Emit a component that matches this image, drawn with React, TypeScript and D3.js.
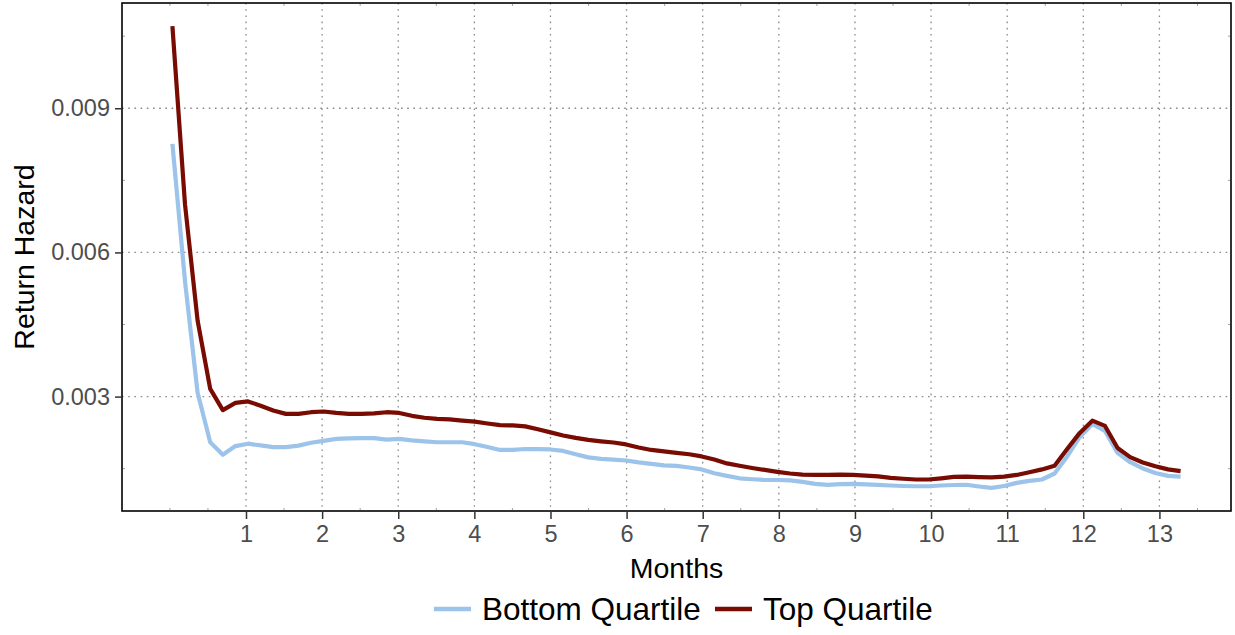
import * as d3 from 'd3'
import React, { useRef, useEffect } from 'react'

// days since exit, one point every 5 days
const days = d3.range(1, 402, 5)
const daysPerMonth = 30.2

const bottomQuartile = [
  0.00826, 0.0054, 0.00308, 0.00205, 0.00179, 0.00197, 0.00202, 0.001985, 0.00195, 0.00195,
  0.00198, 0.00204, 0.00208, 0.00212, 0.00213, 0.002135, 0.002135, 0.002105, 0.00212, 0.00209,
  0.00207, 0.00205, 0.00205, 0.00205, 0.00201, 0.00195, 0.00189, 0.00189, 0.00191, 0.001905,
  0.0019, 0.00187, 0.0018, 0.001735, 0.001705, 0.00169, 0.00167, 0.00163, 0.0016, 0.00157,
  0.00156, 0.001525, 0.001485, 0.001405, 0.00135, 0.0013, 0.00128, 0.001265, 0.001265, 0.001255,
  0.001225, 0.001185, 0.001165, 0.00118, 0.001185, 0.001175, 0.001165, 0.00115, 0.00114, 0.001135,
  0.001135, 0.00115, 0.00116, 0.001165, 0.00113, 0.0011, 0.00114, 0.001205, 0.001245, 0.001275,
  0.0014, 0.001755, 0.00216, 0.00243, 0.002285, 0.00183, 0.001635, 0.001505, 0.00141, 0.00135,
  0.001335,
]

const topQuartile = [
  0.01071, 0.007, 0.00458, 0.00316, 0.00272, 0.00287, 0.0029, 0.00281, 0.00271, 0.00264,
  0.00264, 0.002675, 0.00269, 0.00266, 0.00264, 0.00264, 0.00265, 0.002675, 0.00266, 0.0026,
  0.00256, 0.002535, 0.002525, 0.0025, 0.00248, 0.00244, 0.002405, 0.0024, 0.00238, 0.00232,
  0.002255, 0.00219, 0.00214, 0.0021, 0.00207, 0.002045, 0.002005, 0.00194, 0.00189, 0.00186,
  0.00183, 0.0018, 0.001755, 0.00169, 0.00161, 0.00156, 0.001515, 0.001475, 0.001435, 0.0014,
  0.001375, 0.00137, 0.00137, 0.001375, 0.00137, 0.001355, 0.00134, 0.00131, 0.00129, 0.001275,
  0.001275, 0.0013, 0.00133, 0.001335, 0.001325, 0.00132, 0.001335, 0.00137, 0.001425, 0.001485,
  0.00156, 0.00191, 0.002245, 0.0025, 0.00239, 0.00193, 0.00174, 0.00163, 0.00155, 0.001485,
  0.00145,
]

const monthTicks = [1, 2, 3, 4, 5, 6, 7, 8, 9, 10, 11, 12, 13]
const monthMinor = [0, 0.5, 1.5, 2.5, 3.5, 4.5, 5.5, 6.5, 7.5, 8.5, 9.5, 10.5, 11.5, 12.5, 13.5]
const hazardTicks = [0.003, 0.006, 0.009]
const hazardMinor = [0.0015, 0.0045, 0.0075, 0.0105]
const seriesNames = ['Bottom Quartile', 'Top Quartile']
const seriesColors = ['#9cc3ea', '#780b02']

const FONT = '"Liberation Sans", Arial, Helvetica, sans-serif'

const App = () => {
  const ref = useRef(null)

  useEffect(() => {
    draw()
  }, [])

  const draw = () => {
    const totalWidth = 1235
    const totalHeight = 635
    const left = 122
    const right = 1231
    const top = 3
    const bottom = 511

    const svg = d3.select(ref.current)
    svg.selectAll('*').remove()
    svg.attr('width', totalWidth).attr('height', totalHeight)

    const months = days.map((d) => d / daysPerMonth)
    const series = [bottomQuartile, topQuartile]

    // ggplot-like 5% expansion
    const [x0, x1] = d3.extent(months) as [number, number]
    const xPad = (x1 - x0) * 0.05
    const xScale = d3.scaleLinear().domain([x0 - xPad, x1 + xPad]).range([left, right])

    const allVals = bottomQuartile.concat(topQuartile)
    const [y0, y1] = d3.extent(allVals) as [number, number]
    const yPad = (y1 - y0) * 0.05
    const yScale = d3.scaleLinear().domain([y0 - yPad, y1 + yPad]).range([bottom, top])

    const g = svg.append('g')

    // major grid, dotted
    g.selectAll('.vgrid')
      .data(monthTicks)
      .enter()
      .append('line')
      .attr('x1', (d) => xScale(d))
      .attr('x2', (d) => xScale(d))
      .attr('y1', top)
      .attr('y2', bottom)
      .attr('stroke', '#8a8a8a')
      .attr('stroke-width', 1.3)
      .attr('stroke-dasharray', '1.6,4.6')

    g.selectAll('.hgrid')
      .data(hazardTicks)
      .enter()
      .append('line')
      .attr('x1', left)
      .attr('x2', right)
      .attr('y1', (d) => yScale(d))
      .attr('y2', (d) => yScale(d))
      .attr('stroke', '#8a8a8a')
      .attr('stroke-width', 1.3)
      .attr('stroke-dasharray', '1.6,4.6')

    // minor grid stubs at the panel edges
    monthMinor.forEach((m) => {
      ;[
        [top + 1, top + 3],
        [bottom - 3, bottom - 1],
      ].forEach(([a, b]) => {
        g.append('line')
          .attr('x1', xScale(m))
          .attr('x2', xScale(m))
          .attr('y1', a)
          .attr('y2', b)
          .attr('stroke', '#a0a0a0')
          .attr('stroke-width', 1)
      })
    })
    hazardMinor.forEach((v) => {
      ;[
        [left + 1, left + 3],
        [right - 3, right - 1],
      ].forEach(([a, b]) => {
        g.append('line')
          .attr('x1', a)
          .attr('x2', b)
          .attr('y1', yScale(v))
          .attr('y2', yScale(v))
          .attr('stroke', '#a0a0a0')
          .attr('stroke-width', 1)
      })
    })

    // lines
    const line = d3
      .line<number>()
      .x((d, i) => xScale(months[i]))
      .y((d) => yScale(d))

    series.forEach((s, k) => {
      g.append('path')
        .datum(s)
        .attr('fill', 'none')
        .attr('stroke', seriesColors[k])
        .attr('stroke-width', 4.2)
        .attr('stroke-linejoin', 'round')
        .attr('d', line)
    })

    // panel border
    g.append('rect')
      .attr('x', left)
      .attr('y', top)
      .attr('width', right - left)
      .attr('height', bottom - top)
      .attr('fill', 'none')
      .attr('stroke', '#000')
      .attr('stroke-width', 1.6)

    // axes
    const xAxis = d3.axisBottom(xScale).tickValues(monthTicks).tickSize(8).tickPadding(5)
    const yAxis = d3
      .axisLeft(yScale)
      .tickValues(hazardTicks)
      .tickSize(7)
      .tickPadding(5)
      .tickFormat((d: any) => d3.format('.3f')(d))

    const gx = g.append('g').attr('transform', `translate(0,${bottom})`).call(xAxis)
    const gy = g.append('g').attr('transform', `translate(${left},0)`).call(yAxis)
    ;[gx, gy].forEach((ax) => {
      ax.select('.domain').remove()
      ax.selectAll('line').attr('stroke', '#333').attr('stroke-width', 1.5)
      ax.selectAll('text')
        .attr('fill', '#4d4d4d')
        .style('font-family', FONT)
        .style('font-size', '23.5px')
    })
    gx.selectAll('text').attr('dy', '0.75em')

    // titles
    g.append('text')
      .attr('x', (left + right) / 2)
      .attr('y', 578)
      .attr('text-anchor', 'middle')
      .style('font-family', FONT)
      .style('font-size', '28.5px')
      .attr('fill', '#000')
      .text('Months')

    g.append('text')
      .attr('transform', `translate(34,${(top + bottom) / 2}) rotate(-90)`)
      .attr('text-anchor', 'middle')
      .style('font-family', FONT)
      .style('font-size', '28.5px')
      .attr('fill', '#000')
      .text('Return Hazard')

    // legend
    const legendY = 609
    const keyX = [434, 715]
    seriesNames.forEach((name, k) => {
      g.append('line')
        .attr('x1', keyX[k])
        .attr('x2', keyX[k] + 37)
        .attr('y1', legendY)
        .attr('y2', legendY)
        .attr('stroke', seriesColors[k])
        .attr('stroke-width', 4.6)
      g.append('text')
        .attr('x', keyX[k] + 48)
        .attr('y', legendY + 11)
        .style('font-family', FONT)
        .style('font-size', '31.5px')
        .attr('fill', '#000')
        .text(name)
    })
  }

  return (
    <div style={{ position: 'absolute', left: 0, top: 0 }}>
      <svg ref={ref} style={{ display: 'block' }} />
    </div>
  )
}

export default App
